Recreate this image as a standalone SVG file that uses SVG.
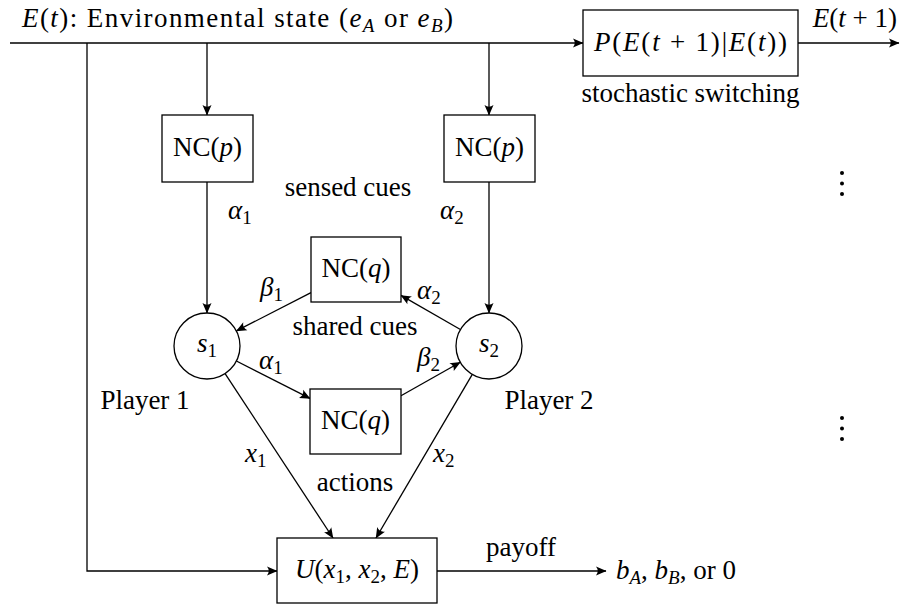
<svg xmlns="http://www.w3.org/2000/svg" width="901" height="605" viewBox="0 0 901 605">
<defs>
<style>
.t{font-family:"Liberation Serif","Times New Roman",serif;font-size:27px;fill:#000}
.m{text-anchor:middle}
.i{font-style:italic}
.n{font-style:normal}
.s{font-size:19px}
.ln{fill:none;stroke:#000;stroke-width:1.3}
.a{marker-end:url(#ah)}
.box{fill:#fff;stroke:#000;stroke-width:1.3}
.dot{fill:#000}
</style>
<marker id="ah" markerUnits="userSpaceOnUse" viewBox="-11 -6 12 12" markerWidth="12" markerHeight="12" refX="0" refY="0" orient="auto">
<path d="M0.5,0 L-10,-4.5 Q-6.5,0 -10,4.5 Z" fill="#000"/>
</marker>
</defs>
<rect width="901" height="605" fill="#fff"/>

<g id="connectors">
<path class="ln a" d="M10,43 H583"/>
<path class="ln a" d="M87,43 V571 H277"/>
<path class="ln a" d="M207,43 V115"/>
<path class="ln a" d="M489,43 V115"/>
<path class="ln a" d="M798,43 H899"/>
<path class="ln a" d="M207,182 V313"/>
<path class="ln a" d="M489,182 V313"/>
<path class="ln a" d="M311,292.6 L236.4,330.9"/>
<path class="ln a" d="M460.4,329.5 L401,295.4"/>
<path class="ln a" d="M236.4,361 L310,398.4"/>
<path class="ln a" d="M401,395.8 L460.3,362.2"/>
<path class="ln a" d="M225.1,373.6 L333,538"/>
<path class="ln a" d="M472.3,374.4 L376,538"/>
<path class="ln a" d="M437,571 H606"/>
</g>

<g id="env-label">
<text class="t" x="22" y="27" textLength="431" lengthAdjust="spacing"><tspan class="i">E</tspan>(<tspan class="i">t</tspan>): Environmental state (<tspan class="i">e</tspan><tspan class="s i" dy="5">A</tspan><tspan dy="-5"> or </tspan><tspan class="i">e</tspan><tspan class="s i" dy="5">B</tspan><tspan dy="-5">)</tspan></text>
</g>

<g id="switch">
<rect class="box" x="583" y="10" width="215" height="66"/>
<text class="t" x="594" y="51" textLength="193" lengthAdjust="spacing"><tspan class="i">P</tspan>(<tspan class="i">E</tspan>(<tspan class="i">t</tspan> + 1)|<tspan class="i">E</tspan>(<tspan class="i">t</tspan>))</text>
<text class="t m" x="690.5" y="102">stochastic switching</text>
</g>

<g id="next-state">
<text class="t" x="897" y="27" text-anchor="end"><tspan class="i">E</tspan>(<tspan class="i">t</tspan> + 1)</text>
</g>

<g id="ncp1">
<rect class="box" x="162" y="115" width="91" height="67"/>
<text class="t m" x="207.5" y="156">NC(<tspan class="i">p</tspan>)</text>
</g>

<g id="ncp2">
<rect class="box" x="444" y="115" width="91" height="67"/>
<text class="t m" x="489.5" y="156">NC(<tspan class="i">p</tspan>)</text>
</g>

<g id="sensed-label">
<text class="t m" x="348" y="196">sensed cues</text>
<text class="t i" x="228" y="219">α<tspan class="s n" dy="5">1</tspan></text>
<text class="t i" x="440" y="219">α<tspan class="s n" dy="5">2</tspan></text>
</g>

<g id="ncq1">
<rect class="box" x="311" y="237" width="90" height="65"/>
<text class="t m" x="356" y="277">NC(<tspan class="i">q</tspan>)</text>
</g>

<g id="ncq2">
<rect class="box" x="310" y="389" width="91" height="65"/>
<text class="t m" x="355.5" y="429">NC(<tspan class="i">q</tspan>)</text>
</g>

<g id="s1">
<circle class="box" cx="207" cy="346" r="33"/>
<text class="t m i" x="207" y="352">s<tspan class="s n" dy="5">1</tspan></text>
<text class="t m" x="145" y="409">Player 1</text>
</g>

<g id="s2">
<circle class="box" cx="489" cy="346" r="33"/>
<text class="t m i" x="489" y="352">s<tspan class="s n" dy="5">2</tspan></text>
<text class="t m" x="549" y="409">Player 2</text>
</g>

<g id="shared-label">
<text class="t i" x="260" y="296">β<tspan class="s n" dy="5">1</tspan></text>
<text class="t i" x="417" y="299">α<tspan class="s n" dy="5">2</tspan></text>
<text class="t m" x="355" y="335">shared cues</text>
<text class="t i" x="259" y="369">α<tspan class="s n" dy="5">1</tspan></text>
<text class="t i" x="417" y="366">β<tspan class="s n" dy="5">2</tspan></text>
</g>

<g id="actions-label">
<text class="t i" x="245" y="462">x<tspan class="s n" dy="5">1</tspan></text>
<text class="t i" x="433" y="462">x<tspan class="s n" dy="5">2</tspan></text>
<text class="t m" x="355" y="491">actions</text>
</g>

<g id="utility">
<rect class="box" x="277" y="538" width="160" height="65"/>
<text class="t m" x="357" y="578"><tspan class="i">U</tspan>(<tspan class="i">x</tspan><tspan class="s" dy="5">1</tspan><tspan dy="-5">, </tspan><tspan class="i">x</tspan><tspan class="s" dy="5">2</tspan><tspan dy="-5">, </tspan><tspan class="i">E</tspan>)</text>
</g>

<g id="payoff">
<text class="t m" x="521" y="556">payoff</text>
<text class="t" x="616" y="579"><tspan class="i">b</tspan><tspan class="s i" dy="5">A</tspan><tspan dy="-5">, </tspan><tspan class="i">b</tspan><tspan class="s i" dy="5">B</tspan><tspan dy="-5">, or 0</tspan></text>
</g>

<g id="ellipsis">
<circle class="dot" cx="842" cy="173" r="2"/>
<circle class="dot" cx="842" cy="183.5" r="2"/>
<circle class="dot" cx="842" cy="194" r="2"/>
<circle class="dot" cx="842" cy="418" r="2"/>
<circle class="dot" cx="842" cy="428.5" r="2"/>
<circle class="dot" cx="842" cy="439" r="2"/>
</g>
</svg>
